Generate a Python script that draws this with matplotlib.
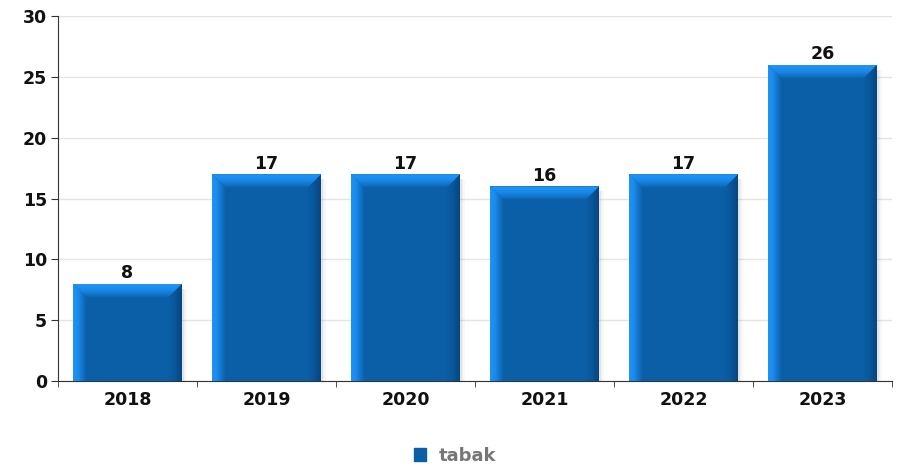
import matplotlib
matplotlib.use("Agg")
import matplotlib.pyplot as plt
import numpy as np
from matplotlib.patches import Polygon, Rectangle
from matplotlib.colors import LinearSegmentedColormap

plt.rcParams["font.family"] = ["DejaVu Sans"]

years = ["2018", "2019", "2020", "2021", "2022", "2023"]
tabak = [8, 17, 17, 16, 17, 26]
series_name = "tabak"

MAIN = "#0b5fa6"
LIGHT = "#1e93f4"
DARK = "#064680"

fig = plt.figure(figsize=(9.01, 4.67), dpi=100)
ax = fig.add_axes([58 / 901, 86 / 467, 834 / 901, 365 / 467])

ax.set_xlim(-0.5, len(years) - 0.5)
ax.set_ylim(0, 30)

width = 0.785
# bevel sizes in data units (about 14 px)
dx = 14 / 139.0
dy = 14 / (365 / 30.0)


def grad_fill(poly, stops, horizontal, extent):
    cmap = LinearSegmentedColormap.from_list("g", stops)
    g = np.linspace(0, 1, 64)
    img = g[None, :] if horizontal else g[:, None]
    im = ax.imshow(img, cmap=cmap, extent=extent, origin="upper",
                   aspect="auto", zorder=3, interpolation="bilinear")
    im.set_clip_path(poly)


x = np.arange(len(years))
bars = ax.bar(x, tabak, width=width, color=MAIN, zorder=3, label=series_name)

for xi, h in zip(x, tabak):
    x0, x1 = xi - width / 2, xi + width / 2
    # soft shadow on the right
    for k, a in enumerate([0.22, 0.12, 0.06]):
        ax.add_patch(Rectangle((x1 + k * 0.012, 0), 0.012, h - 0.4,
                               color="#888888", alpha=a, lw=0, zorder=2))
    # left bevel
    p = Polygon([(x0, 0), (x0, h), (x0 + dx, h - dy), (x0 + dx, 0)],
                closed=True, fc="none", ec="none", zorder=3)
    ax.add_patch(p)
    grad_fill(p, [(0, LIGHT), (0.35, "#1a8bec"), (0.7, "#1272c6"), (1, MAIN)],
              True, (x0, x0 + dx, 0, h))
    # right bevel
    p = Polygon([(x1, 0), (x1, h), (x1 - dx, h - dy), (x1 - dx, 0)],
                closed=True, fc="none", ec="none", zorder=3)
    ax.add_patch(p)
    grad_fill(p, [(0, MAIN), (0.5, "#09569a"), (1, DARK)], True,
              (x1 - dx, x1, 0, h))
    # top bevel
    p = Polygon([(x0, h), (x1, h), (x1 - dx, h - dy), (x0 + dx, h - dy)],
                closed=True, fc="none", ec="none", zorder=3)
    ax.add_patch(p)
    grad_fill(p, [(0, "#2095f5"), (0.4, "#1a8aea"), (0.75, "#1374cc"), (1, MAIN)],
              False, (x0, x1, h - dy, h))
    ax.text(xi, h + 0.1, str(h), ha="center", va="bottom",
            fontsize=12.5, fontweight="bold", color="#111111", zorder=5)

ax.set_yticks(range(0, 31, 5))
ax.yaxis.grid(True, color="#e4e4e4", lw=1)
ax.set_axisbelow(True)
ax.set_xticks(x)
ax.set_xticklabels(years)
ax.set_xticks(np.arange(-0.5, len(years), 1), minor=True)
ax.tick_params(axis="x", which="major", length=0, pad=7)
ax.tick_params(axis="x", which="minor", length=4, color="#333333")
ax.tick_params(axis="y", length=5, color="#333333", pad=3)
for lbl in ax.get_xticklabels() + ax.get_yticklabels():
    lbl.set_fontweight("bold")
    lbl.set_fontsize(12.5)
    lbl.set_color("#111111")

for s in ["top", "right"]:
    ax.spines[s].set_visible(False)
ax.spines["left"].set_color("#333333")
ax.spines["bottom"].set_color("#333333")

leg = fig.legend(handles=[Rectangle((0, 0), 1, 1, color=MAIN)],
                 labels=[series_name], loc="center", bbox_to_anchor=(455 / 901, 1 - 456 / 467),
                 frameon=False, handlelength=0.7, handleheight=0.7, handletextpad=0.7,
                 prop={"weight": "bold", "size": 13})
for t in leg.get_texts():
    t.set_color("#777777")

fig.savefig("out.png", dpi=100)
